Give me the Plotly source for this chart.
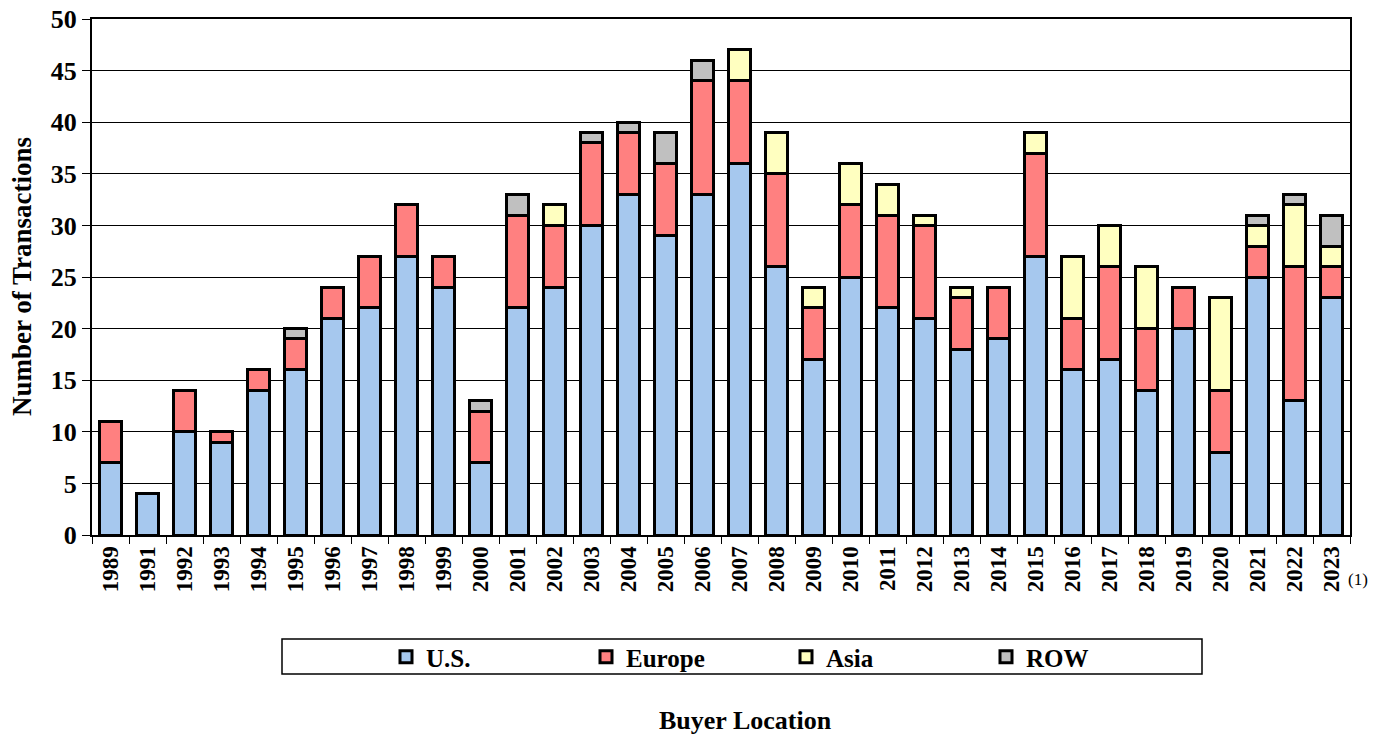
import plotly.graph_objects as go

years = ["1989", "1991", "1992", "1993", "1994", "1995", "1996", "1997", "1998", "1999",
         "2000", "2001", "2002", "2003", "2004", "2005", "2006", "2007", "2008", "2009",
         "2010", "2011", "2012", "2013", "2014", "2015", "2016", "2017", "2018", "2019",
         "2020", "2021", "2022", "2023"]
us = [7, 4, 10, 9, 14, 16, 21, 22, 27, 24,
      7, 22, 24, 30, 33, 29, 33, 36, 26, 17,
      25, 22, 21, 18, 19, 27, 16, 17, 14, 20,
      8, 25, 13, 23]
europe = [4, 0, 4, 1, 2, 3, 3, 5, 5, 3,
          5, 9, 6, 8, 6, 7, 11, 8, 9, 5,
          7, 9, 9, 5, 5, 10, 5, 9, 6, 4,
          6, 3, 13, 3]
asia = [0, 0, 0, 0, 0, 0, 0, 0, 0, 0,
        0, 0, 2, 0, 0, 0, 0, 3, 4, 2,
        4, 3, 1, 1, 0, 2, 6, 4, 6, 0,
        9, 2, 6, 2]
row = [0, 0, 0, 0, 0, 1, 0, 0, 0, 0,
       1, 2, 0, 1, 1, 3, 2, 0, 0, 0,
       0, 0, 0, 0, 0, 0, 0, 0, 0, 0,
       0, 1, 1, 3]

series = [("U.S.", us, "#A6C8EE"), ("Europe", europe, "#FF8080"),
          ("Asia", asia, "#FFFFC0"), ("ROW", row, "#C0C0C0")]

FONT = "Liberation Serif"
W, H = 1387, 734
L, R, T, B = 92, 37, 19, 199
PW, PH = W - L - R, H - T - B


def px(x):
    return (x - L) / PW


def py(y):
    return (H - B - y) / PH


fig = go.Figure()
for name, vals, col in series:
    fig.add_trace(go.Bar(
        x=years, y=[v if v else None for v in vals], name=name,
        marker=dict(color=col, line=dict(color="black", width=3)),
    ))

fig.update_layout(
    barmode="stack", bargap=0.43,
    width=W, height=H,
    margin=dict(l=L, r=R, t=T, b=B, autoexpand=False),
    plot_bgcolor="white", paper_bgcolor="white",
    font=dict(family=FONT, color="black"),
    showlegend=True,
    legend=dict(orientation="h", x=px(386), xanchor="left", y=py(657), yanchor="middle",
                bgcolor="rgba(0,0,0,0)", borderwidth=0,
                font=dict(family=FONT, size=25, color="black", weight="bold"),
                entrywidth=155, itemwidth=30, traceorder="normal"),
    xaxis=dict(type="category", tickangle=-90, automargin=False,
               tickfont=dict(family=FONT, size=23, color="black", weight="bold"),
               showline=True, linecolor="black", linewidth=2, mirror=True,
               ticks="outside", tickson="boundaries", ticklen=7, tickcolor="black",
               showgrid=False),
    yaxis=dict(range=[0, 50], dtick=5, automargin=False,
               tickfont=dict(family=FONT, size=26, color="black", weight="bold"),
               showline=True, linecolor="black", linewidth=2, mirror=True,
               ticks="outside", ticklen=8, tickcolor="black",
               gridcolor="black", gridwidth=1, zeroline=False),
    shapes=[dict(type="rect", xref="paper", yref="paper",
                 x0=px(282), x1=px(1202), y0=py(674), y1=py(639),
                 line=dict(color="black", width=1.5), fillcolor="rgba(0,0,0,0)", layer="below")],
    annotations=[
        dict(text="Number of Transactions", xref="paper", yref="paper", x=px(22), y=py(277),
             textangle=-90, showarrow=False, xanchor="center", yanchor="middle",
             font=dict(family=FONT, size=27, color="black", weight="bold")),
        dict(text="Buyer Location", xref="paper", yref="paper", x=px(745),
             y=py(720), showarrow=False, yanchor="middle",
             font=dict(family=FONT, size=26, color="black", weight="bold")),
        dict(text="(1)", xref="paper", yref="paper", x=px(1370),
             y=py(579), showarrow=False, yanchor="middle",
             font=dict(family=FONT, size=17, color="black")),
    ],
)

fig.write_html("out.html", config={"displayModeBar": False},
               post_script="document.body.style.margin='0';document.body.style.overflow='hidden';")
